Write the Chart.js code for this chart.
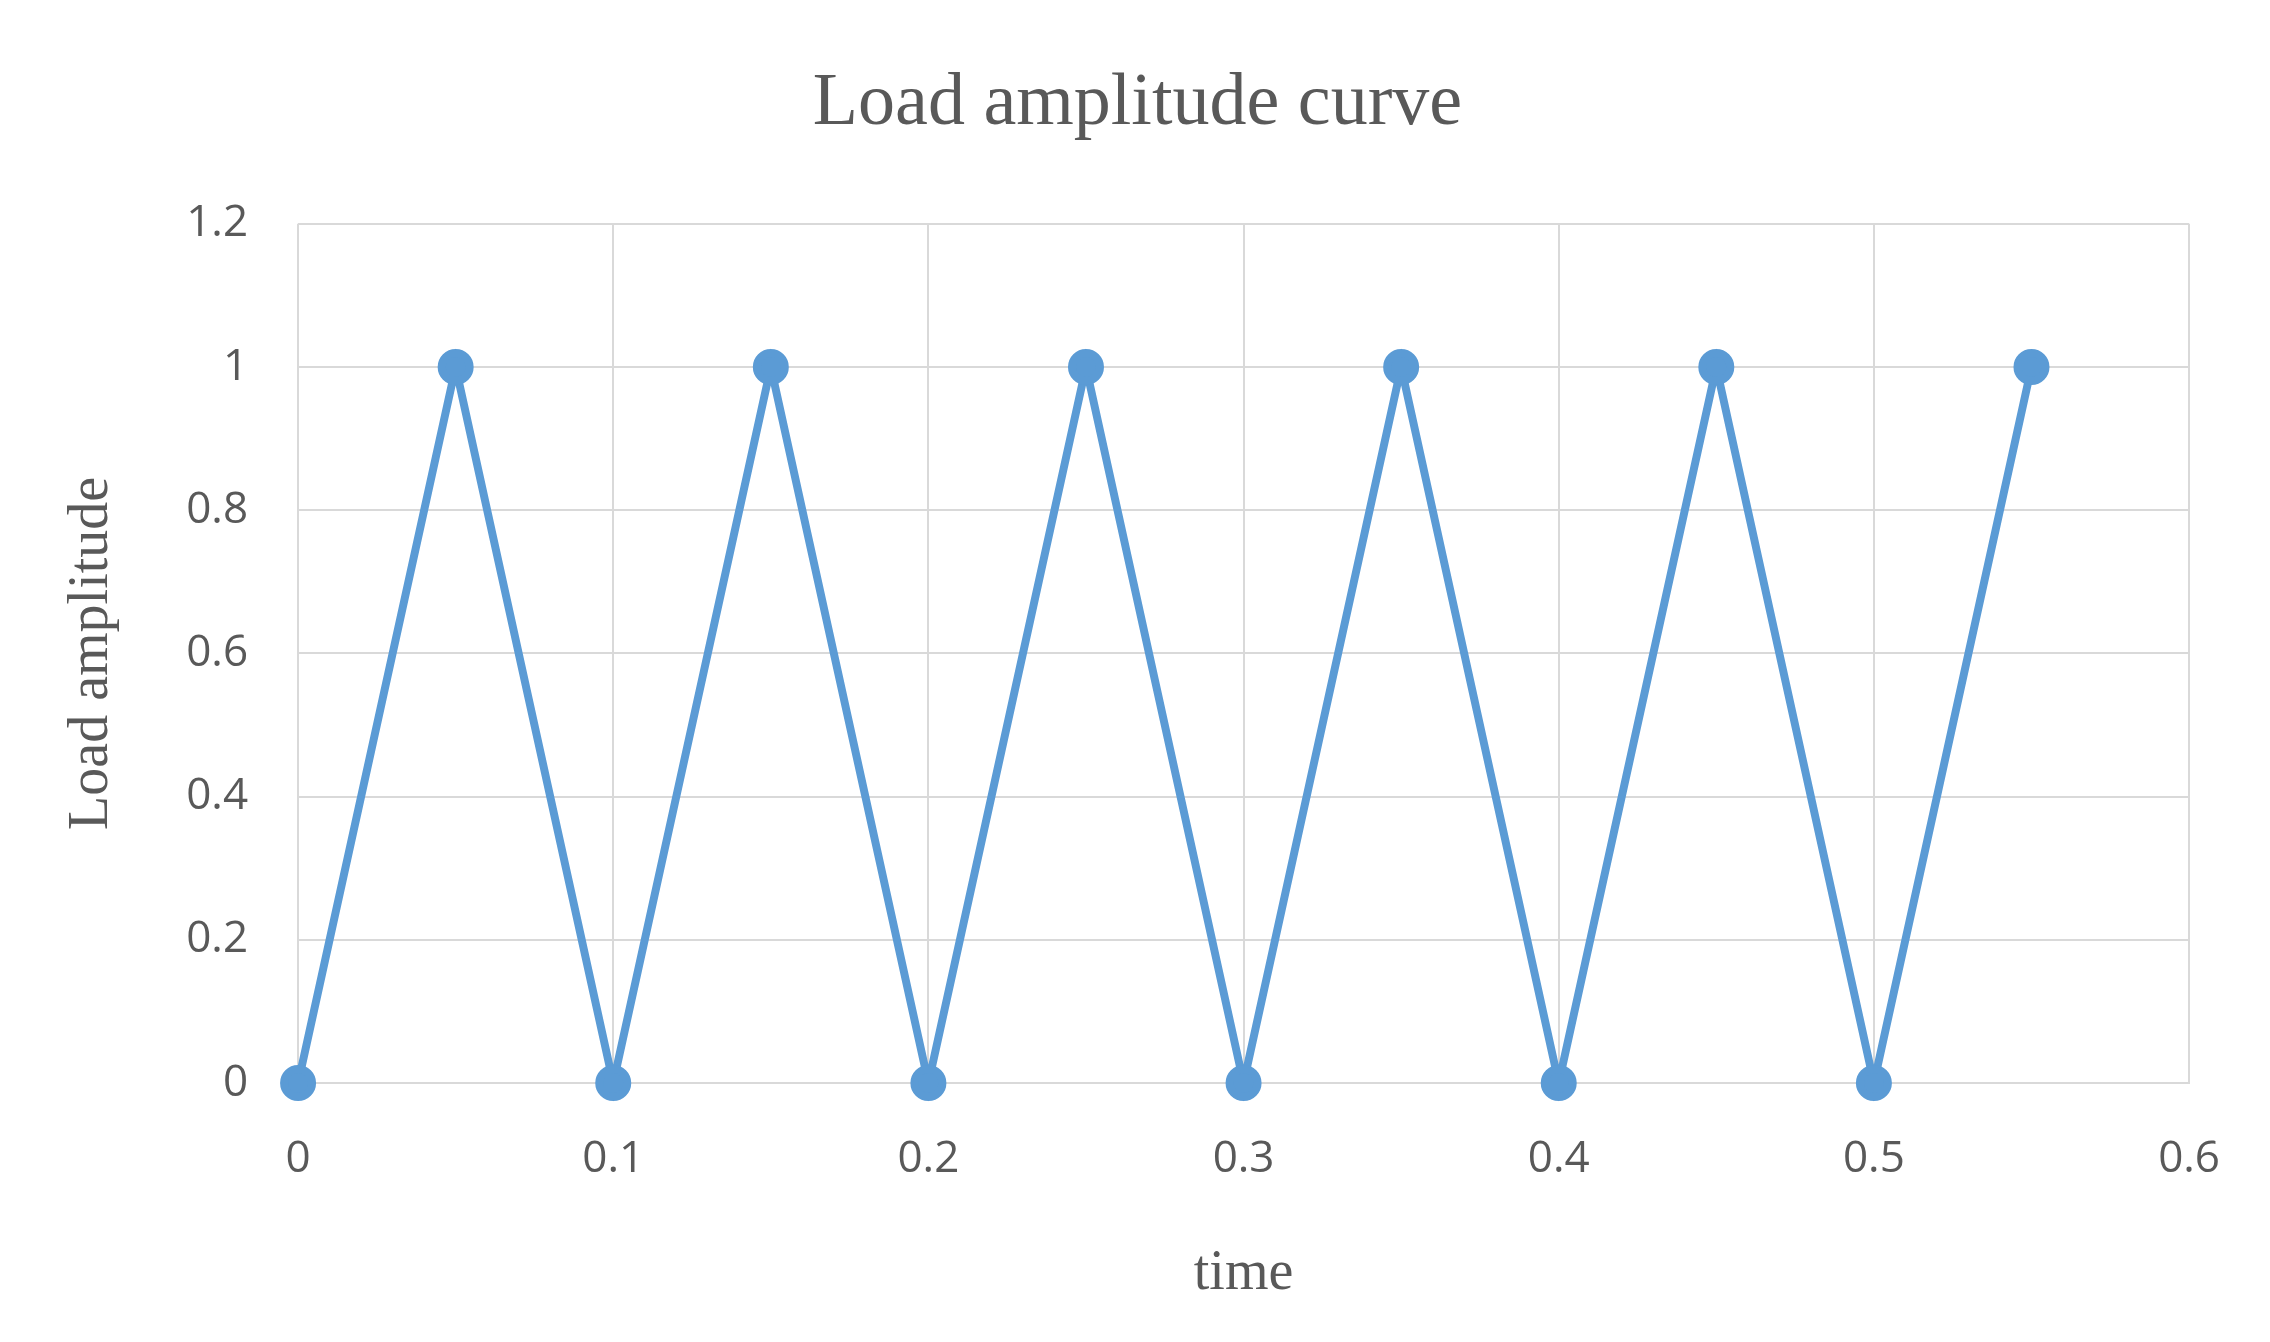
<!DOCTYPE html>
<html>
<head>
<meta charset="utf-8">
<script src="https://cdn.jsdelivr.net/npm/chart.js@4/dist/chart.umd.min.js"></script>
<style>
  html, body { margin: 0; padding: 0; background: #fff; }
  #wrap { width: 2270px; height: 1342px; }
</style>
</head>
<body>
<div id="wrap"><canvas id="chart"></canvas></div>
<script>
// Load amplitude data
const times = [0, 0.05, 0.1, 0.15, 0.2, 0.25, 0.3, 0.35, 0.4, 0.45, 0.5, 0.55];
const amplitudes = [0, 1, 0, 1, 0, 1, 0, 1, 0, 1, 0, 1];
const xTicks = [0, 0.1, 0.2, 0.3, 0.4, 0.5, 0.6];
const yTicks = [0, 0.2, 0.4, 0.6, 0.8, 1, 1.2];

const ctx = document.getElementById('chart').getContext('2d');

new Chart(ctx, {
    type: 'line',
    data: {
        datasets: [{
            label: 'Load amplitude',
            data: times.map((t, i) => ({ x: t, y: amplitudes[i] })),
            borderColor: '#5b9bd5',
            backgroundColor: '#5b9bd5',
            borderWidth: 8,
            pointRadius: 14,
            pointHoverRadius: 14,
            tension: 0,
            clip: false
        }]
    },
    options: {
        responsive: true,
        maintainAspectRatio: false,
        animation: false,
        layout: { padding: { top: 20, right: 50, bottom: 30, left: 55 } },
        plugins: {
            legend: { display: false },
            tooltip: { enabled: false },
            title: {
                display: true,
                text: 'Load amplitude curve',
                color: '#595959',
                font: { family: 'Liberation Serif', size: 74, weight: 'normal' },
                padding: { top: 40, bottom: 75 }
            }
        },
        scales: {
            x: {
                type: 'linear',
                min: 0,
                max: 0.6,
                afterBuildTicks: axis => { axis.ticks = xTicks.map(v => ({ value: v })); },
                ticks: {
                    color: '#595959',
                    font: { family: 'Open Sans', size: 44 },
                    padding: 50,
                    maxRotation: 0,
                    callback: v => String(v)
                },
                grid: { color: '#d9d9d9', lineWidth: 2, drawTicks: false },
                border: { color: '#d9d9d9', width: 2 },
                title: {
                    display: true,
                    text: 'time',
                    color: '#595959',
                    font: { family: 'Liberation Serif', size: 56 },
                    padding: { top: 5 }
                }
            },
            y: {
                min: 0,
                max: 1.2,
                afterBuildTicks: axis => { axis.ticks = yTicks.map(v => ({ value: v })); },
                ticks: {
                    color: '#595959',
                    font: { family: 'Open Sans', size: 44 },
                    padding: 50,
                    callback: v => String(v)
                },
                grid: { color: '#d9d9d9', lineWidth: 2, drawTicks: false },
                border: { display: false },
                title: {
                    display: true,
                    text: 'Load amplitude',
                    color: '#595959',
                    font: { family: 'Liberation Serif', size: 56 },
                    padding: { bottom: 10 }
                }
            }
        }
    }
});
</script>
</body>
</html>
